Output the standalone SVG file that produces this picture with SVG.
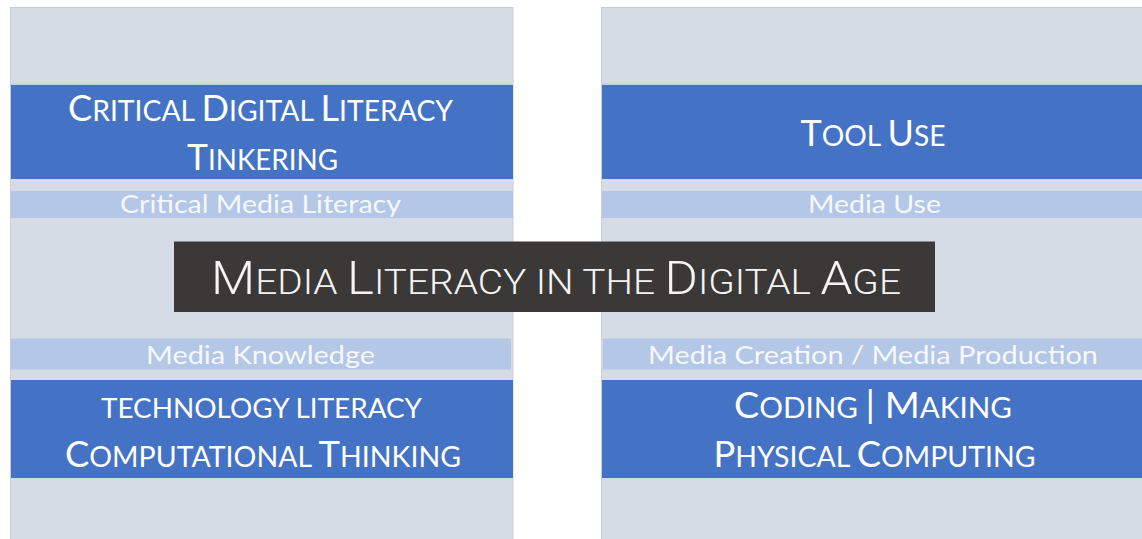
<svg xmlns="http://www.w3.org/2000/svg" width="1142" height="539" viewBox="0 0 1142 539">
  <style>
    .panel { fill: #d6dce5; stroke: #c8cdd5; stroke-width: 1; }
    .band { fill: #4472c4; }
    .edge { fill: #c3d1eb; }
    .strip { fill: #b4c7e7; }
    .head { font-family: Lato, "Open Sans", "Liberation Sans", sans-serif; fill: #ffffff; }
    .big { font-size: 37px; }
    .sm { font-size: 29px; }
    .sub { font-family: Lato, "Open Sans", "Liberation Sans", sans-serif; font-size: 25px; fill: #ffffff; fill-opacity: 0.9; }
    .title-box { fill: #3b3838; }
    .title { font-family: Roboto, "Liberation Sans", sans-serif; font-weight: 300; fill: #f4f4f4; }
    .tbig { font-size: 46px; }
    .tsm { font-size: 35px; }
  </style>

  <!-- left column -->
  <g id="left-panel">
    <rect class="panel" x="10.5" y="7.5" width="502.5" height="540"/>
  </g>
  <g id="critical-digital-literacy">
    <rect class="edge" x="11" y="83" width="502" height="2"/>
    <rect class="band" x="11" y="85" width="502" height="94"/>
    <text class="head" x="68" y="121" textLength="385" lengthAdjust="spacingAndGlyphs"><tspan class="big">C</tspan><tspan class="sm">RITICAL </tspan><tspan class="big">D</tspan><tspan class="sm">IGITAL </tspan><tspan class="big">L</tspan><tspan class="sm">ITERACY</tspan></text>
    <text class="head" x="187" y="170" textLength="151" lengthAdjust="spacingAndGlyphs"><tspan class="big">T</tspan><tspan class="sm">INKERING</tspan></text>
  </g>
  <g id="critical-media-literacy">
    <rect class="strip" x="11" y="191" width="502" height="27"/>
    <text class="sub" x="120" y="213" textLength="281" lengthAdjust="spacingAndGlyphs">Critical Media Literacy</text>
  </g>
  <g id="media-knowledge">
    <rect class="strip" x="11" y="338.5" width="500" height="31"/>
    <text class="sub" x="146" y="364" textLength="229" lengthAdjust="spacingAndGlyphs">Media Knowledge</text>
  </g>
  <g id="technology-literacy">
    <rect class="band" x="11" y="380" width="502" height="98"/>
    <text class="head" x="101" y="418" textLength="321" lengthAdjust="spacingAndGlyphs"><tspan style="font-size:27px">TECHNOLOGY LITERACY</tspan></text>
    <text class="head" x="65" y="467" textLength="396" lengthAdjust="spacingAndGlyphs"><tspan class="big">C</tspan><tspan class="sm">OMPUTATIONAL </tspan><tspan class="big">T</tspan><tspan class="sm">HINKING</tspan></text>
  </g>

  <!-- right column -->
  <g id="right-panel">
    <rect class="panel" x="601.5" y="7.5" width="545" height="540"/>
  </g>
  <g id="tool-use">
    <rect class="edge" x="602" y="83" width="540" height="2"/>
    <rect class="band" x="602" y="85" width="540" height="94"/>
    <text class="head" x="800.5" y="146" textLength="145" lengthAdjust="spacingAndGlyphs"><tspan class="big">T</tspan><tspan class="sm">OOL </tspan><tspan class="big">U</tspan><tspan class="sm">SE</tspan></text>
  </g>
  <g id="media-use">
    <rect class="strip" x="602" y="191" width="540" height="27"/>
    <text class="sub" x="808" y="213" textLength="133" lengthAdjust="spacingAndGlyphs">Media Use</text>
  </g>
  <g id="media-creation">
    <rect class="strip" x="603" y="338.5" width="539" height="31"/>
    <text class="sub" x="648" y="364" textLength="450" lengthAdjust="spacingAndGlyphs">Media Creation / Media Production</text>
  </g>
  <g id="coding-making">
    <rect class="band" x="602" y="380" width="540" height="98"/>
    <text class="head" x="734" y="418" textLength="278" lengthAdjust="spacingAndGlyphs"><tspan class="big">C</tspan><tspan class="sm">ODING </tspan><tspan class="big">| M</tspan><tspan class="sm">AKING</tspan></text>
    <text class="head" x="713.5" y="467" textLength="322" lengthAdjust="spacingAndGlyphs"><tspan class="big">P</tspan><tspan class="sm">HYSICAL </tspan><tspan class="big">C</tspan><tspan class="sm">OMPUTING</tspan></text>
  </g>

  <!-- centre title bar -->
  <g id="title">
    <rect class="title-box" x="174" y="241.5" width="761" height="70.5"/>
    <text class="title" x="211" y="294" textLength="690" lengthAdjust="spacingAndGlyphs"><tspan class="tbig">M</tspan><tspan class="tsm">EDIA </tspan><tspan class="tbig">L</tspan><tspan class="tsm">ITERACY IN THE </tspan><tspan class="tbig">D</tspan><tspan class="tsm">IGITAL </tspan><tspan class="tbig">A</tspan><tspan class="tsm">GE</tspan></text>
  </g>
</svg>
